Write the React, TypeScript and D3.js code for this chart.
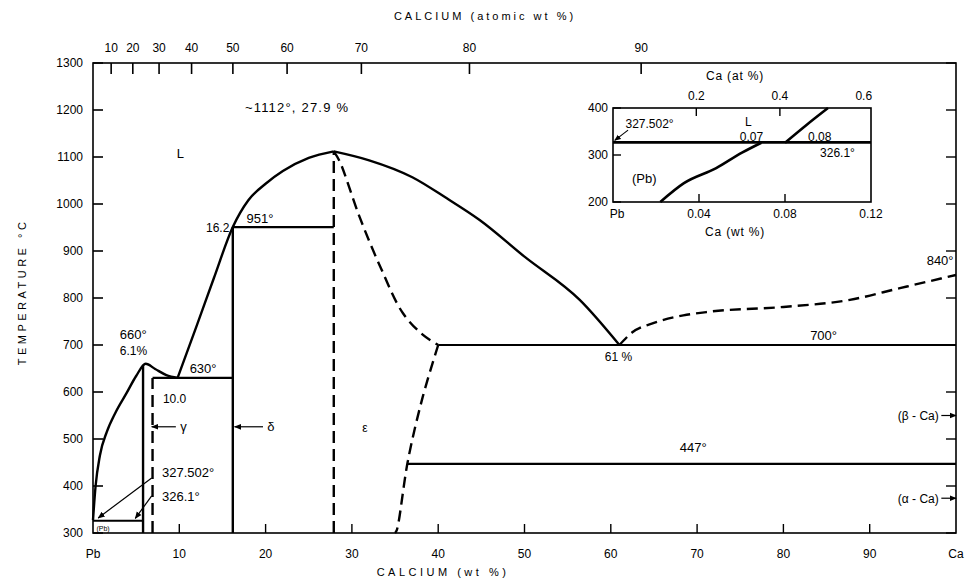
import React from 'react';
import * as d3 from 'd3';

const W = 966;
const H = 581;

// main diagram: x = wt % Ca, y = temperature (deg C)
const wtTicks = [0, 10, 20, 30, 40, 50, 60, 70, 80, 90, 100];
const wtLabels = ['Pb', '10', '20', '30', '40', '50', '60', '70', '80', '90', 'Ca'];
const tempTicks = [300, 400, 500, 600, 700, 800, 900, 1000, 1100, 1200, 1300];
const atTicks = [10, 20, 30, 40, 50, 60, 70, 80, 90];

// liquidus pieces (solid)
const liqPb = [[0, 327.5], [0.3, 400], [0.8, 465], [1.6, 515], [2.6, 556], [3.9, 598], [5.0, 634], [6.1, 660], [7.2, 649], [8.5, 636], [9.8, 630]];
const liqDelta = [[9.8, 630], [12, 740], [14, 842], [16.2, 951], [18, 1008], [20, 1043], [22, 1070], [25, 1098], [27.9, 1112]];
const liqEps = [[27.9, 1112], [32, 1093], [37, 1057], [41, 1012], [44.8, 966], [50, 888], [56.4, 796], [61, 700]];
// dashed boundaries
const epsUpper = [[27.9, 1112], [28.6, 1090], [30.9, 972], [33.3, 866], [35.9, 768], [38.2, 722], [40, 700]];
const epsLower = [[40, 700], [38.2, 589], [36.5, 455], [35.2, 306], [35, 300]];
const caLiquidus = [[61, 700], [62.5, 727], [65, 747], [68.4, 763], [71.5, 771], [80, 781], [87.7, 796], [93.5, 821], [100, 849]];

// isotherms [T, from, to]
const isotherms = [[951, 16.2, 27.9], [630, 6.9, 16.2], [700, 40, 100], [447, 36.4, 100], [326.1, 0, 5.8]];
// solid phase boundaries [wt, Tlow, Thigh]
const solidVerticals = [[5.8, 300, 658], [16.2, 300, 951]];
const dashedVerticals = [[27.9, 300, 1112], [6.9, 300, 630]];

// inset: Pb-rich corner
const insetWtTicks = [0.04, 0.08];
const insetWtLabels = ['Pb', '0.04', '0.08', '0.12'];
const insetTempTicks = [200, 300, 400];
const insetAtTicks = [0.2, 0.4];
const insetSolidus = [[0.022, 200], [0.033, 240], [0.048, 272], [0.06, 305], [0.069, 326.1]];
const insetLiquidus = [[0.08, 326.1], [0.09, 364], [0.1, 400]];

const atToWt = (a: number) => (a * 40.08) / (a * 40.08 + (100 - a) * 207.2) * 100;

const FONT = 'Liberation Sans, Arial, sans-serif';

const App = () => {
  const x = d3.scaleLinear().domain([0, 100]).range([93, 956]);
  const y = d3.scaleLinear().domain([300, 1300]).range([533, 63]);
  const lineX = d3.line<number[]>().x(d => x(d[0])).y(d => y(d[1])).curve(d3.curveMonotoneX);
  const lineC = d3.line<number[]>().x(d => x(d[0])).y(d => y(d[1])).curve(d3.curveCatmullRom);

  const ix = d3.scaleLinear().domain([0, 0.12]).range([613, 871]);
  const iy = d3.scaleLinear().domain([200, 400]).range([202, 108]);
  const iline = d3.line<number[]>().x(d => ix(d[0])).y(d => iy(d[1])).curve(d3.curveMonotoneX);

  const txt = (s: string, px: number, py: number, anchor = 'start', size = 12, ls = 0) => (
    <text x={px} y={py} textAnchor={anchor} fontSize={size} fontFamily={FONT} letterSpacing={ls}>{s}</text>
  );

  return (
    <div style={{ position: 'absolute', left: 0, top: 0 }}>
      <svg width={W} height={H} style={{ display: 'block', background: '#fff' }}>
        <defs>
          <marker id="ah" viewBox="0 0 10 10" refX="9" refY="5" markerWidth="6" markerHeight="6" orient="auto">
            <path d="M0,1 L10,5 L0,9 z" fill="#000" />
          </marker>
        </defs>

        {/* frame */}
        <rect x={x(0)} y={y(1300)} width={x(100) - x(0)} height={y(300) - y(1300)} fill="none" stroke="#000" strokeWidth={1.6} />

        {/* left/right temperature ticks */}
        {tempTicks.map(t => (
          <g key={'t' + t}>
            <line x1={x(0)} x2={x(0) + 10} y1={y(t)} y2={y(t)} stroke="#000" strokeWidth={1.6} />
            <line x1={x(100)} x2={x(100) - 10} y1={y(t)} y2={y(t)} stroke="#000" strokeWidth={1.4} />
            {txt(String(t), x(0) - 10, y(t) + 4, 'end', 12)}
          </g>
        ))}

        {/* bottom wt % ticks */}
        {wtTicks.map((v, i) => (
          <g key={'w' + v}>
            {i > 0 && i < wtTicks.length - 1 && (
              <line x1={x(v)} x2={x(v)} y1={y(300)} y2={y(300) - 9} stroke="#000" strokeWidth={1.4} />
            )}
            {txt(wtLabels[i], x(v), 558, 'middle', 12)}
          </g>
        ))}

        {/* top atomic % ticks */}
        {atTicks.map(a => (
          <g key={'a' + a}>
            <line x1={x(atToWt(a))} x2={x(atToWt(a))} y1={y(1300)} y2={y(1300) + 11} stroke="#000" strokeWidth={1.6} />
            {txt(String(a), x(atToWt(a)), 52, 'middle', 12)}
          </g>
        ))}

        {/* axis titles */}
        <text x={485} y={20} textAnchor="middle" fontSize={11} fontFamily={FONT} letterSpacing={3}>CALCIUM  (atomic  wt  %)</text>
        <text x={443} y={576} textAnchor="middle" fontSize={11} fontFamily={FONT} letterSpacing={3.5}>CALCIUM  (wt  %)</text>
        <text transform="translate(26,292) rotate(-90)" textAnchor="middle" fontSize={11} fontFamily={FONT} letterSpacing={3.5}>TEMPERATURE  °C</text>

        {/* solid curves */}
        {[liqPb, liqDelta, liqEps].map((d, i) => (
          <path key={'l' + i} d={lineX(d) || ''} fill="none" stroke="#000" strokeWidth={2.4} />
        ))}
        {/* dashed curves */}
        {[epsUpper, epsLower].map((d, i) => (
          <path key={'d' + i} d={lineC(d) || ''} fill="none" stroke="#000" strokeWidth={2.4} strokeDasharray="11,6" />
        ))}
        <path d={lineX(caLiquidus) || ''} fill="none" stroke="#000" strokeWidth={2.4} strokeDasharray="11,6" />
        {isotherms.map((d, i) => (
          <line key={'i' + i} x1={x(d[1])} x2={x(d[2])} y1={y(d[0])} y2={y(d[0])} stroke="#000" strokeWidth={2.2} />
        ))}
        {solidVerticals.map((d, i) => (
          <line key={'s' + i} x1={x(d[0])} x2={x(d[0])} y1={y(d[1])} y2={y(d[2])} stroke="#000" strokeWidth={2.4} />
        ))}
        {dashedVerticals.map((d, i) => (
          <line key={'v' + i} x1={x(d[0])} x2={x(d[0])} y1={y(d[1])} y2={y(d[2])} stroke="#000" strokeWidth={2.4} strokeDasharray="12,6" />
        ))}

        {/* labels */}
        {txt('L', x(9.7), y(1098), 'start', 13)}
        {txt('~1112°, 27.9 %', x(17.6), y(1196), 'start', 13, 1.2)}
        {txt('16.2', x(15.8), y(940), 'end', 12)}
        {txt('951°', x(17.8), y(960), 'start', 13)}
        {txt('660°', x(3.1), y(713), 'start', 13)}
        {txt('6.1%', x(3.1), y(679), 'start', 12)}
        {txt('630°', x(11.2), y(640), 'start', 13)}
        {txt('10.0', x(8.1), y(577), 'start', 12)}
        {txt('γ', x(10.1), y(517), 'start', 13)}
        <line x1={x(9.6)} x2={x(6.8)} y1={y(526)} y2={y(526)} stroke="#000" strokeWidth={1.2} markerEnd="url(#ah)" />
        {txt('δ', x(20.2), y(517), 'start', 13)}
        <line x1={x(19.7)} x2={x(16.4)} y1={y(526)} y2={y(526)} stroke="#000" strokeWidth={1.2} markerEnd="url(#ah)" />
        {txt('ε', x(31.2), y(515), 'start', 12)}
        {txt('327.502°', x(8.0), y(419), 'start', 13)}
        <line x1={x(6.8)} x2={x(0.6)} y1={y(417)} y2={y(332)} stroke="#000" strokeWidth={1.2} markerEnd="url(#ah)" />
        {txt('326.1°', x(8.0), y(368), 'start', 13)}
        <line x1={x(6.8)} x2={x(4.9)} y1={y(379)} y2={y(331)} stroke="#000" strokeWidth={1.2} markerEnd="url(#ah)" />
        {txt('(Pb)', x(0.4), y(305), 'start', 7)}
        {txt('61 %', x(59.3), y(666), 'start', 12)}
        {txt('700°', x(83.1), y(711), 'start', 13)}
        {txt('447°', x(68), y(472), 'start', 13)}
        {txt('840°', x(96.6), y(870), 'start', 13)}
        {txt('(β - Ca)', x(98.0), y(540), 'end', 12)}
        <line x1={x(98.3)} x2={x(100)} y1={y(550)} y2={y(550)} stroke="#000" strokeWidth={1.2} markerEnd="url(#ah)" />
        {txt('(α - Ca)', x(98.0), y(364), 'end', 12)}
        <line x1={x(98.3)} x2={x(100)} y1={y(374)} y2={y(374)} stroke="#000" strokeWidth={1.2} markerEnd="url(#ah)" />

        {/* inset */}
        <rect x={ix(0)} y={iy(400)} width={ix(0.12) - ix(0)} height={iy(200) - iy(400)} fill="#fff" stroke="#000" strokeWidth={1.6} />
        {insetTempTicks.map(t => (
          <g key={'it' + t}>
            <line x1={ix(0)} x2={ix(0) + 8} y1={iy(t)} y2={iy(t)} stroke="#000" strokeWidth={1.4} />
            {txt(String(t), ix(0) - 5, iy(t) + 4, 'end', 12)}
          </g>
        ))}
        {insetWtTicks.map(v => (
          <line key={'iw' + v} x1={ix(v)} x2={ix(v)} y1={iy(200)} y2={iy(200) - 8} stroke="#000" strokeWidth={1.4} />
        ))}
        {[0, 0.04, 0.08, 0.12].map((v, i) => (
          <g key={'iwl' + i}>{txt(insetWtLabels[i], ix(v) + (i === 0 ? 4 : 0), 218, 'middle', 12)}</g>
        ))}
        {insetAtTicks.map(a => (
          <g key={'ia' + a}>
            <line x1={ix(atToWt(a))} x2={ix(atToWt(a))} y1={iy(400)} y2={iy(400) + 8} stroke="#000" strokeWidth={1.4} />
            {txt(String(a), ix(atToWt(a)), 100, 'middle', 12)}
          </g>
        ))}
        {txt('0.6', ix(atToWt(0.6)), 100, 'middle', 12)}
        {txt('Ca (at %)', 735, 80, 'middle', 12, 0.8)}
        {txt('Ca  (wt %)', 735, 236, 'middle', 12, 0.8)}
        <line x1={ix(0)} x2={ix(0.12)} y1={iy(327.5)} y2={iy(327.5)} stroke="#000" strokeWidth={2} />
        <line x1={ix(0)} x2={ix(0.12)} y1={iy(326.1)} y2={iy(326.1)} stroke="#000" strokeWidth={2} />
        <path d={iline(insetSolidus) || ''} fill="none" stroke="#000" strokeWidth={2.6} />
        <path d={iline(insetLiquidus) || ''} fill="none" stroke="#000" strokeWidth={2.6} />
        {txt('327.502°', ix(0.0058), iy(357), 'start', 12)}
        <line x1={ix(0.007)} x2={ix(0.0008)} y1={iy(353)} y2={iy(331)} stroke="#000" strokeWidth={1.1} markerEnd="url(#ah)" />
        {txt('L', ix(0.0614), iy(361), 'start', 12)}
        {txt('0.07', ix(0.059), iy(330), 'start', 12)}
        {txt('0.08', ix(0.0907), iy(330), 'start', 12)}
        {txt('326.1°', ix(0.0963), iy(296), 'start', 12)}
        {txt('(Pb)', ix(0.0088), iy(240), 'start', 13)}
      </svg>
    </div>
  );
};

export default App;
